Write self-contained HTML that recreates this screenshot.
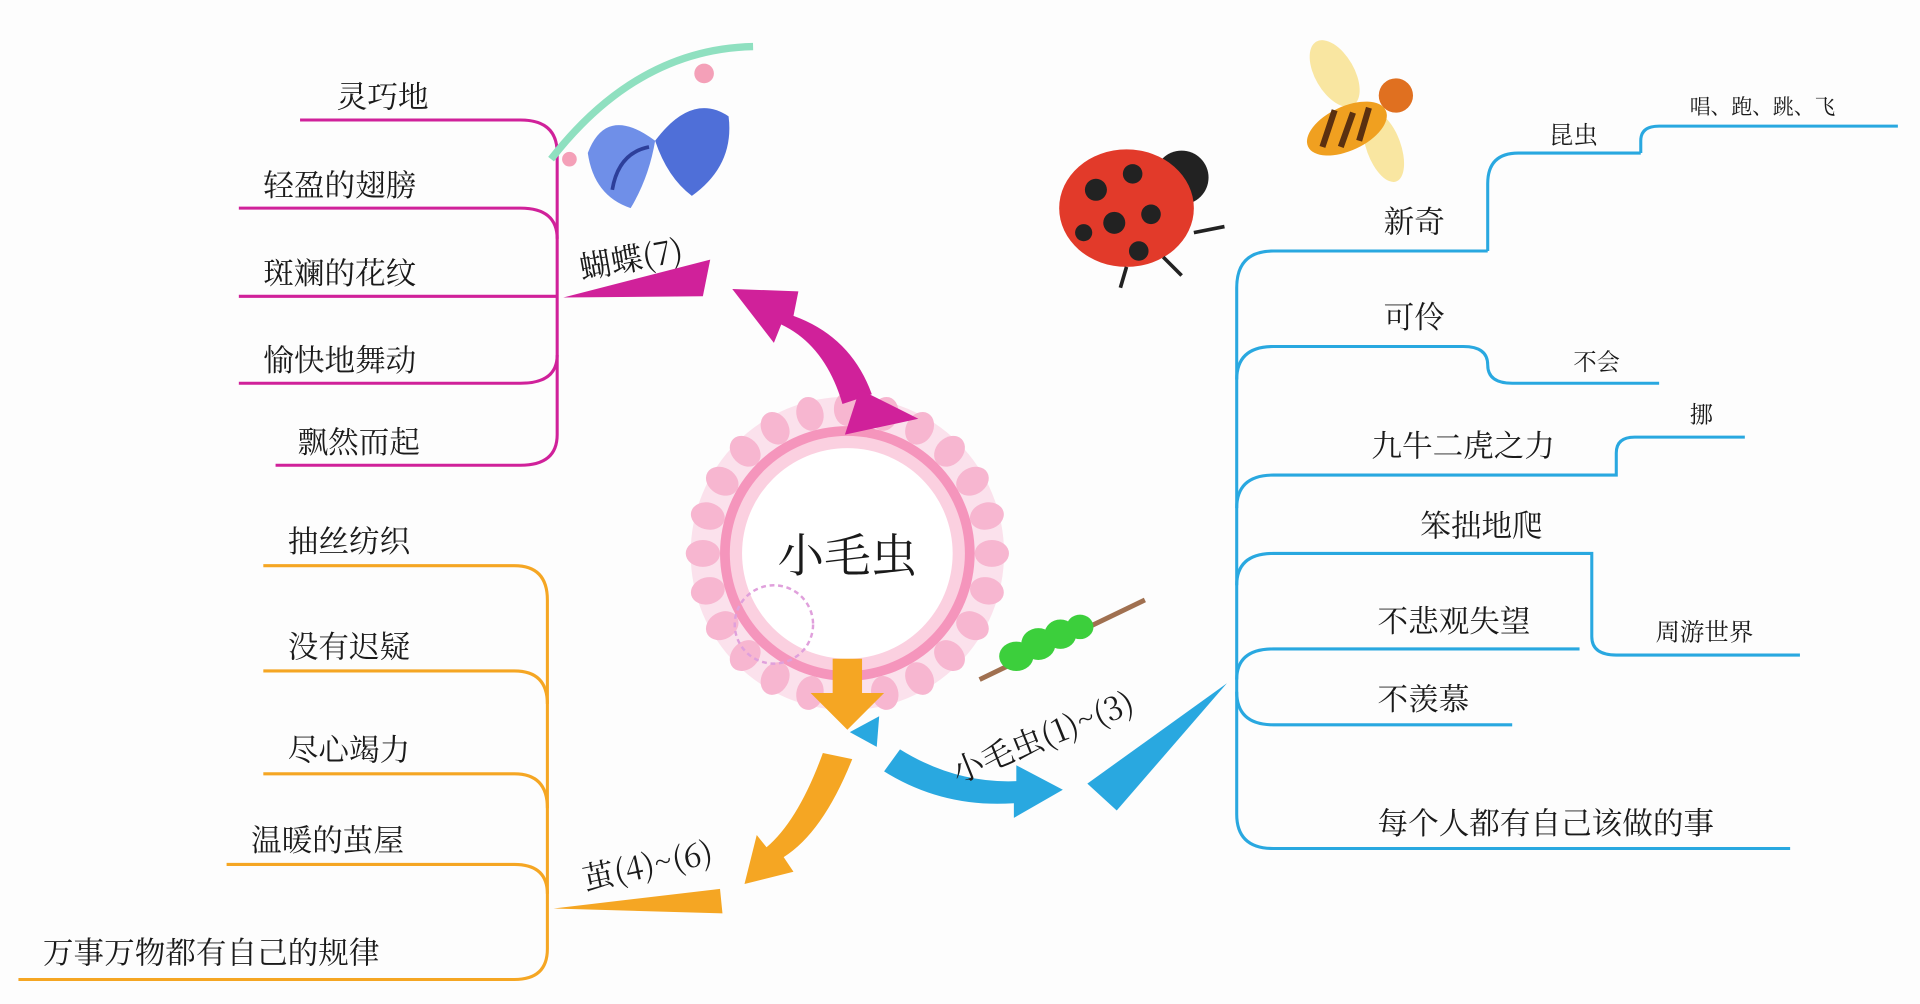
<!DOCTYPE html>
<html><head><meta charset="utf-8">
<style>
html,body{margin:0;padding:0;background:#fdfdfd;}
svg{display:block;}
text{font-family:"Noto Serif CJK SC","Liberation Serif","Noto Sans CJK SC",serif;fill:#1a1a1a;}
</style></head><body>
<svg width="1920" height="1004" viewBox="0 0 1568 820" xmlns="http://www.w3.org/2000/svg">
<rect width="1568" height="820" fill="#fdfdfd"/>

<!-- Flower -->
<g transform="translate(692,452)">
  <circle r="128" fill="#fbe1ec"/>
  <g fill="#f7b6d0">
    <ellipse cx="0" cy="-118" rx="11" ry="14"/>
    <ellipse cx="0" cy="-118" rx="11" ry="14" transform="rotate(15)"/>
    <ellipse cx="0" cy="-118" rx="11" ry="14" transform="rotate(30)"/>
    <ellipse cx="0" cy="-118" rx="11" ry="14" transform="rotate(45)"/>
    <ellipse cx="0" cy="-118" rx="11" ry="14" transform="rotate(60)"/>
    <ellipse cx="0" cy="-118" rx="11" ry="14" transform="rotate(75)"/>
    <ellipse cx="0" cy="-118" rx="11" ry="14" transform="rotate(90)"/>
    <ellipse cx="0" cy="-118" rx="11" ry="14" transform="rotate(105)"/>
    <ellipse cx="0" cy="-118" rx="11" ry="14" transform="rotate(120)"/>
    <ellipse cx="0" cy="-118" rx="11" ry="14" transform="rotate(135)"/>
    <ellipse cx="0" cy="-118" rx="11" ry="14" transform="rotate(150)"/>
    <ellipse cx="0" cy="-118" rx="11" ry="14" transform="rotate(165)"/>
    <ellipse cx="0" cy="-118" rx="11" ry="14" transform="rotate(180)"/>
    <ellipse cx="0" cy="-118" rx="11" ry="14" transform="rotate(195)"/>
    <ellipse cx="0" cy="-118" rx="11" ry="14" transform="rotate(210)"/>
    <ellipse cx="0" cy="-118" rx="11" ry="14" transform="rotate(225)"/>
    <ellipse cx="0" cy="-118" rx="11" ry="14" transform="rotate(240)"/>
    <ellipse cx="0" cy="-118" rx="11" ry="14" transform="rotate(255)"/>
    <ellipse cx="0" cy="-118" rx="11" ry="14" transform="rotate(270)"/>
    <ellipse cx="0" cy="-118" rx="11" ry="14" transform="rotate(285)"/>
    <ellipse cx="0" cy="-118" rx="11" ry="14" transform="rotate(300)"/>
    <ellipse cx="0" cy="-118" rx="11" ry="14" transform="rotate(315)"/>
    <ellipse cx="0" cy="-118" rx="11" ry="14" transform="rotate(330)"/>
    <ellipse cx="0" cy="-118" rx="11" ry="14" transform="rotate(345)"/>
  </g>
  <circle r="104" fill="#f595bc"/>
  <circle r="96" fill="#fbd0e0"/>
  <circle r="86" fill="#ffffff"/>
  <circle cx="-60" cy="58" r="32" fill="none" stroke="#e0a0dc" stroke-width="2" stroke-dasharray="4 3"/>
</g>
<text x="692" y="467" font-size="38" text-anchor="middle">小毛虫</text>

<!-- ========== MAGENTA ========== -->
<g fill="none" stroke="#d0219a" stroke-width="2.5">
  <path d="M245,98 H425 Q455,98 455,125 V355 Q455,380 425,380 H225"/>
  <path d="M195,170 H425 Q455,170 455,195"/>
  <path d="M195,242 H455"/>
  <path d="M195,313 H425 Q455,313 455,290"/>
</g>
<text x="275" y="88" font-size="25">灵巧地</text>
<text x="215" y="160" font-size="25">轻盈的翅膀</text>
<text x="215" y="232" font-size="25">斑斓的花纹</text>
<text x="215" y="303" font-size="25">愉快地舞动</text>
<text x="243" y="370" font-size="25">飘然而起</text>
<text x="475" y="228" font-size="26" transform="rotate(-10 475 228)">蝴蝶(7)</text>
<path d="M460,243 L580,212 L574,242 Z" fill="#d0219a"/>
<path d="M712,322 Q695,275 648,258 L652,238 L598,236 L632,280 L638,265 Q674,282 688,330 Z" fill="#d0219a"/>
<path d="M690,355 L702,318 L750,342 Z" fill="#d0219a"/>

<!-- butterfly -->
<path d="M450,130 Q520,40 615,38" stroke="#8fe0c0" stroke-width="6" fill="none"/>
<g transform="translate(535,115)">
  <path d="M0,0 Q-40,-30 -55,10 Q-50,45 -20,55 Q-5,30 0,0Z" fill="#6f8fe8"/>
  <path d="M0,0 Q30,-40 60,-20 Q65,20 30,45 Q10,30 0,0Z" fill="#4f6fd8"/>
  <path d="M-5,5 Q-30,10 -35,40" stroke="#2d3f9a" stroke-width="3" fill="none"/>
  <circle cx="-70" cy="15" r="6" fill="#f4a0b8"/>
  <circle cx="40" cy="-55" r="8" fill="#f4a0b8"/>
</g>

<!-- ========== ORANGE ========== -->
<g fill="none" stroke="#f5a623" stroke-width="2.5">
  <path d="M215,462 H420 Q447,462 447,490 V775 Q447,800 420,800 H15"/>
  <path d="M215,548 H420 Q447,548 447,575"/>
  <path d="M215,632 H420 Q447,632 447,660"/>
  <path d="M185,706 H420 Q447,706 447,730"/>
</g>
<text x="235" y="451" font-size="25">抽丝纺织</text>
<text x="235" y="537" font-size="25">没有迟疑</text>
<text x="235" y="621" font-size="25">尽心竭力</text>
<text x="205" y="695" font-size="25">温暖的茧屋</text>
<text x="35" y="787" font-size="25">万事万物都有自己的规律</text>
<text x="478" y="727" font-size="26" transform="rotate(-12 478 727)">茧(4)~(6)</text>
<path d="M452,742 L588,726 L590,746 Z" fill="#f5a623"/>
<path d="M696,620 Q672,680 640,700 L648,712 L608,722 L618,682 L626,692 Q652,670 672,615 Z" fill="#f5a623"/>
<path d="M680,538 L704,538 L704,566 L722,566 L692,596 L662,566 L680,566 Z" fill="#f5a623"/>

<!-- ========== BLUE ========== -->
<path d="M694,598 L718,585 L716,610 Z" fill="#29a8e0"/>
<path d="M722,630 L735,612 Q780,640 830,638 L830,625 L868,645 L828,668 L828,656 Q770,660 722,630 Z" fill="#29a8e0"/>
<path d="M888,640 L1002,558 L912,662 Z" fill="#29a8e0"/>
<text x="782" y="640" font-size="26" transform="rotate(-22 782 640)">小毛虫(1)~(3)</text>
<g fill="none" stroke="#29a8e0" stroke-width="2.5">
  <path d="M1215,205 H1040 Q1010,205 1010,235 V665 Q1010,693 1040,693 H1462"/>
  <path d="M1215,205 V150 Q1215,125 1240,125 H1340"/>
  <path d="M1340,125 V115 Q1340,103 1355,103 H1550"/>
  <path d="M1010,310 Q1010,283 1040,283 H1195 Q1215,283 1215,298 Q1215,313 1235,313 H1355"/>
  <path d="M1010,415 Q1010,388 1040,388 H1320 V370 Q1320,357 1335,357 H1425"/>
  <path d="M1010,478 Q1010,452 1040,452 H1300 V520 Q1300,535 1320,535 H1470"/>
  <path d="M1010,555 Q1010,530 1040,530 H1290"/>
  <path d="M1010,565 Q1010,592 1040,592 H1235"/>
</g>
<text x="1130" y="190" font-size="25">新奇</text>
<text x="1265" y="117" font-size="20">昆虫</text>
<text x="1380" y="93" font-size="17">唱、跑、跳、飞</text>
<text x="1130" y="268" font-size="25">可伶</text>
<text x="1285" y="302" font-size="19">不会</text>
<text x="1120" y="373" font-size="25">九牛二虎之力</text>
<text x="1380" y="345" font-size="19">挪</text>
<text x="1160" y="438" font-size="25">笨拙地爬</text>
<text x="1352" y="523" font-size="20">周游世界</text>
<text x="1125" y="516" font-size="25">不悲观失望</text>
<text x="1125" y="580" font-size="25">不羡慕</text>
<text x="1125" y="681" font-size="25">每个人都有自己该做的事</text>

<!-- ladybug -->
<g transform="translate(920,170)">
  <circle cx="45" cy="-25" r="22" fill="#222"/>
  <ellipse cx="0" cy="0" rx="55" ry="48" fill="#e23a2a"/>
  <circle cx="-25" cy="-15" r="9" fill="#222"/>
  <circle cx="5" cy="-28" r="8" fill="#222"/>
  <circle cx="-10" cy="12" r="9" fill="#222"/>
  <circle cx="20" cy="5" r="8" fill="#222"/>
  <circle cx="-35" cy="20" r="7" fill="#222"/>
  <circle cx="10" cy="35" r="8" fill="#222"/>
  <path d="M30,40 L45,55 M0,48 L-5,65 M55,20 L80,15" stroke="#222" stroke-width="3"/>
</g>
<!-- bee -->
<g transform="translate(1110,90)">
  <ellipse cx="-20" cy="-30" rx="16" ry="30" fill="#f7e08a" opacity="0.8" transform="rotate(-30 -20 -30)"/>
  <ellipse cx="20" cy="30" rx="14" ry="30" fill="#f7e08a" opacity="0.8" transform="rotate(-20 20 30)"/>
  <ellipse cx="-10" cy="15" rx="35" ry="18" fill="#f0a020" transform="rotate(-25 -10 15)"/>
  <path d="M-30,30 L-20,0 M-15,30 L-5,2 M0,25 L8,-2" stroke="#5a3010" stroke-width="5"/>
  <circle cx="30" cy="-12" r="14" fill="#e07020"/>
</g>
<!-- caterpillar -->
<path d="M800,555 L935,490" stroke="#a07050" stroke-width="4"/>
<g fill="#3ccf3c">
  <ellipse cx="830" cy="536" rx="14" ry="12"/>
  <ellipse cx="848" cy="526" rx="14" ry="13"/>
  <ellipse cx="866" cy="518" rx="13" ry="12"/>
  <ellipse cx="882" cy="512" rx="11" ry="10"/>
</g>
</svg>
</body></html>
